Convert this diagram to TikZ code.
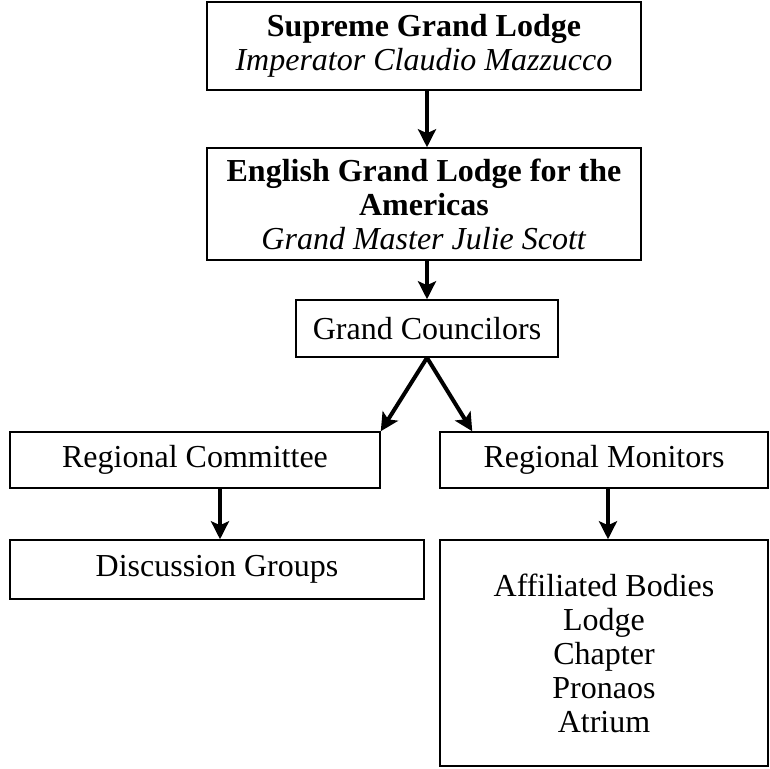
\documentclass[tikz,border=0pt]{standalone}
\usepackage{fontspec}
\setmainfont{Liberation Serif}
\usetikzlibrary{arrows.meta}

\begin{document}
\begin{tikzpicture}[x=1pt,y=-1pt,
    box/.style={draw,line width=1.5pt,align=center,inner sep=0pt,font=\fontsize{32}{34}\selectfont},
    arr/.style={line width=4pt,-{Stealth[length=18pt,width=18pt,inset=4pt]}}]
  \useasboundingbox (0,0) rectangle (770,768);
  % Lodge hierarchy
  \node[box,minimum width=434pt,minimum height=88pt] (sgl) at (424,46)
    {\textbf{Supreme Grand Lodge}\\\textit{Imperator Claudio Mazzucco}};
  \node[box,minimum width=434pt,minimum height=112pt] (egl) at (424,204)
    {\textbf{English Grand Lodge for the}\\\textbf{Americas}\\\textit{Grand Master Julie Scott}};
  \node[box,minimum width=262pt,minimum height=57pt] (gc) at (427,328.5) {Grand Councilors};
  \node[box,minimum width=370pt,minimum height=56pt] (rc) at (195,460) {Regional Committee};
  \node[box,minimum width=328pt,minimum height=56pt] (rm) at (604,460) {Regional Monitors};
  \node[box,minimum width=414pt,minimum height=59pt] (dg) at (217,569.5) {Discussion Groups};
  \node[box,minimum width=328pt,minimum height=226pt] (ab) at (604,653)
    {Affiliated Bodies\\Lodge\\Chapter\\Pronaos\\Atrium};

  \draw[arr] ([xshift=3pt]sgl.south) -- ([xshift=3pt]egl.north);
  \draw[arr] ([xshift=3pt]egl.south) -- (gc.north);
  \draw[arr] (gc.south) -- (rc.north east);
  \draw[arr] (gc.south) -- ([xshift=33pt]rm.north west);
  \draw[arr] ([xshift=25pt]rc.south) -- ([xshift=25pt]rc.south |- dg.north);
  \draw[arr] ([xshift=4pt]rm.south) -- ([xshift=4pt]ab.north);
\end{tikzpicture}
\end{document}
